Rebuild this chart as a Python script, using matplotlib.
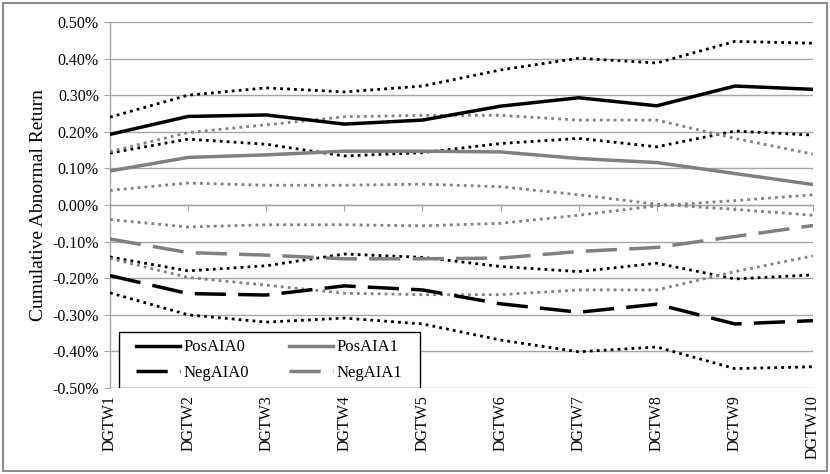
import matplotlib
matplotlib.use("Agg")
import matplotlib.pyplot as plt
from matplotlib.patches import Rectangle
from matplotlib.ticker import FuncFormatter, MultipleLocator

plt.rcParams['font.family'] = ['Liberation Serif', 'DejaVu Serif']

categories = ["DGTW1", "DGTW2", "DGTW3", "DGTW4", "DGTW5",
              "DGTW6", "DGTW7", "DGTW8", "DGTW9", "DGTW10"]

pos_aia0 = [0.193, 0.242, 0.246, 0.221, 0.232, 0.270, 0.293, 0.271, 0.325, 0.316]
pos_aia0_upper = [0.240, 0.300, 0.320, 0.309, 0.325, 0.369, 0.401, 0.388, 0.447, 0.442]
pos_aia0_lower = [0.142, 0.180, 0.166, 0.134, 0.143, 0.168, 0.182, 0.159, 0.202, 0.191]

pos_aia1 = [0.093, 0.130, 0.137, 0.147, 0.147, 0.145, 0.127, 0.116, 0.086, 0.056]
pos_aia1_upper = [0.146, 0.198, 0.219, 0.241, 0.245, 0.245, 0.232, 0.232, 0.182, 0.139]
pos_aia1_lower = [0.040, 0.060, 0.054, 0.054, 0.057, 0.050, 0.028, 0.002, -0.012, -0.028]

neg_aia0 = [-0.193, -0.242, -0.246, -0.221, -0.232, -0.270, -0.293, -0.271, -0.325, -0.316]
neg_aia0_upper = [-0.142, -0.180, -0.166, -0.134, -0.143, -0.168, -0.182, -0.159, -0.202, -0.191]
neg_aia0_lower = [-0.240, -0.300, -0.320, -0.309, -0.325, -0.369, -0.401, -0.388, -0.447, -0.442]

neg_aia1 = [-0.093, -0.130, -0.137, -0.147, -0.147, -0.145, -0.127, -0.116, -0.086, -0.056]
neg_aia1_upper = [-0.040, -0.060, -0.054, -0.054, -0.057, -0.050, -0.028, -0.002, 0.012, 0.028]
neg_aia1_lower = [-0.146, -0.198, -0.219, -0.241, -0.245, -0.245, -0.232, -0.232, -0.182, -0.139]

W, H = 830, 474
fig = plt.figure(figsize=(W / 100, H / 100), dpi=100)
fig.patch.set_facecolor('white')
ax = fig.add_axes([110 / W, 1 - 388 / H, (813 - 110) / W, (388 - 22) / H])

x = list(range(len(categories)))
BLACK = '#000000'
GRAY = '#808080'
dot_style = (0, (1.0, 1.5))
dash_style = (0, (9, 3.5))

# confidence bands (dotted)
for ys, c in [(pos_aia0_upper, BLACK), (pos_aia0_lower, BLACK),
              (neg_aia0_upper, BLACK), (neg_aia0_lower, BLACK),
              (pos_aia1_upper, GRAY), (pos_aia1_lower, GRAY),
              (neg_aia1_upper, GRAY), (neg_aia1_lower, GRAY)]:
    ax.plot(x, ys, color=c, lw=2.0, linestyle=dot_style, zorder=3)

l1, = ax.plot(x, pos_aia0, color=BLACK, lw=2.5, zorder=4, label='PosAIA0')
l2, = ax.plot(x, neg_aia0, color=BLACK, lw=2.5, linestyle=dash_style, zorder=4, label='NegAIA0')
l3, = ax.plot(x, pos_aia1, color=GRAY, lw=2.5, zorder=4, label='PosAIA1')
l4, = ax.plot(x, neg_aia1, color=GRAY, lw=2.5, linestyle=dash_style, zorder=4, label='NegAIA1')

ax.set_xlim(0, len(categories) - 1)
ax.set_ylim(-0.5, 0.5)
ax.yaxis.set_major_locator(MultipleLocator(0.1))
ax.yaxis.set_major_formatter(FuncFormatter(lambda v, p: f"{v:.2f}%".replace('-0.00', '0.00')))
ax.grid(axis='y', color='#a6a6a6', lw=1.0, zorder=0)
ax.set_axisbelow(True)

for s in ['top', 'right']:
    ax.spines[s].set_visible(False)
ax.spines['left'].set_color('#a6a6a6')
ax.spines['left'].set_linewidth(1.0)
ax.spines['bottom'].set_position(('data', 0))
ax.spines['bottom'].set_color('#a6a6a6')
ax.spines['bottom'].set_linewidth(1.0)
ax.spines['bottom'].set_zorder(1)

ax.set_xticks(x)
ax.tick_params(axis='x', direction='out', length=4, color='#a6a6a6', labelbottom=False)
ax.tick_params(axis='y', direction='out', length=4, color='#a6a6a6', labelsize=11.5, pad=4)

sec = ax.secondary_xaxis('bottom')
sec.set_xticks(x)
sec.set_xticklabels(categories, rotation=90, fontsize=11.5)
sec.tick_params(length=0, pad=5)
sec.spines['bottom'].set_visible(False)

ax.set_ylabel('Cumulative Abnormal Return', fontsize=14, labelpad=4)

# legend frame
fx0 = (119 - 110) / (813 - 110)
fw = (420 - 119) / (813 - 110)
fh = (388 - 332) / (388 - 22)
ax.add_patch(Rectangle((fx0, 0), fw, fh, transform=ax.transAxes, facecolor='white',
                       edgecolor='black', lw=1.0, zorder=5))
leg = ax.legend(handles=[l1, l2, l3, l4], ncol=2, loc='center',
                bbox_to_anchor=(fx0, 0, fw, fh), frameon=False, fontsize=12,
                handlelength=2.6, handletextpad=0.25, columnspacing=2.4,
                labelspacing=0.55, borderpad=0.2)
leg.set_zorder(6)

fig.add_artist(Rectangle((3 / W, 3 / H), (W - 6) / W, (H - 6) / H, transform=fig.transFigure,
                         facecolor='none', edgecolor='#8c8c8c', lw=1.5))

fig.savefig('out.png', dpi=100)
